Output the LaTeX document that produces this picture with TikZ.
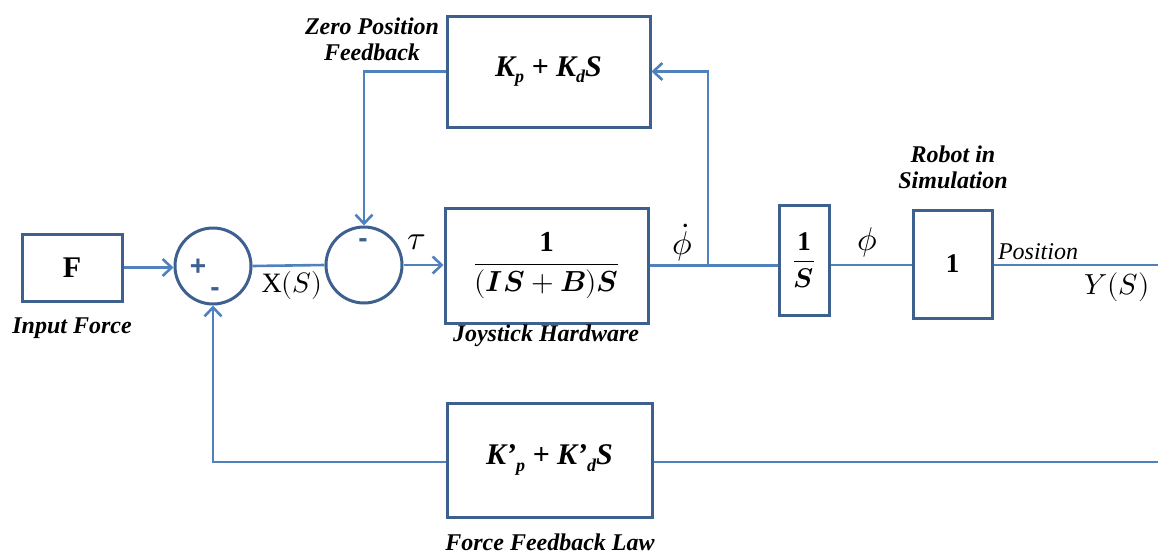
\documentclass[tikz,border=0pt]{standalone}
\usepackage{amsmath}
\usepackage{fontspec}
\usepackage{unicode-math}
\setmainfont{Liberation Serif}
\setmathfont{Latin Modern Math}
\newfontfamily\signfont{Liberation Sans}
\usetikzlibrary{arrows.meta}
\definecolor{boxc}{RGB}{62,96,142}
\definecolor{linec}{RGB}{79,129,189}
\newcommand\fsz[1]{\fontsize{#1}{#1}\selectfont}
\newcommand\lowsub[1]{\raisebox{-0.45ex}{\fsz{18}#1}}
\tikzset{
  blk/.style={draw=boxc, line width=3pt, fill=white, inner sep=0pt},
  sumc/.style={circle, draw=boxc, line width=3pt, fill=white, minimum size=76pt, inner sep=0pt},
  conn/.style={draw=linec, line width=2.6pt},
  arr/.style={conn, -{Straight Barb[length=9pt, width=17pt, line width=2.6pt]}},
  lbl/.style={font=\fsz{24}\bfseries\itshape, align=center, inner sep=0pt},
  sgn/.style={text=boxc, font=\fsz{28}\signfont\bfseries, inner sep=0pt},
  mth/.style={inner sep=0pt},
}
\begin{document}
\begin{tikzpicture}[x=1pt, y=-1pt]
\useasboundingbox (0,0) rectangle (1158,554);
% nodes
\node[blk, minimum width=100pt, minimum height=67pt] (F) at (72,267.5) {\fsz{30}\bfseries F};
\node[sumc] (s1) at (213,266) {};
\node[sumc] (s2) at (364,265) {};
\node[blk, minimum width=203pt, minimum height=115pt] (joy) at (546.5,265.5)
  {\fsz{29}$\displaystyle\frac{\mathbf{1}}{\mathbf{(}\symbfit{IS}\mathbin{\mathbf{+}}\symbfit{B}\mathbf{)}\symbfit{S}}$};
\node[blk, minimum width=203pt, minimum height=111pt] (kp) at (548.5,71.5)
  {\fsz{30}\bfseries\itshape K\lowsub{p} + K\lowsub{d}S};
\node[blk, minimum width=50pt, minimum height=110pt] (inv) at (804,260)
  {\fsz{27}$\displaystyle\frac{\mathbf{1}}{\symbfit{S}}$};
\node[blk, minimum width=79pt, minimum height=108pt] (rob) at (952.5,264)
  {\fsz{27}$\mathbf{1}$};
\node[blk, minimum width=205pt, minimum height=114pt] (ff) at (549.5,460)
  {\fsz{30}\bfseries\itshape K’\lowsub{p} + K’\lowsub{d}S};
\coordinate (tap) at (708,265);
\coordinate (outY) at (1158,265);
\coordinate (outF) at (1158,462);
% connectors
\draw[arr] (F.east) -- (F.east -| s1.west);
\draw[conn] (s1.east) -- (s2.west);
\draw[arr] (s2.east) -- (s2.east -| joy.west);
\draw[conn] (joy.east) -- (joy.east -| inv.west);
\draw[arr] (tap) |- (kp.east);
\draw[arr] (kp.west) -| (s2.north);
\draw[conn] (inv.east |- tap) -- (tap -| rob.west);
\draw[conn] (rob.east |- tap) -- (outY);
\draw[conn] (ff.east |- outF) -- (outF);
\draw[arr] (ff.west |- outF) -| (s1.south);
% signs
\node[sgn] (p1) at (198,267) {+};
\node[sgn] (m1) at (215,292) {-};
\node[sgn] (m2) at (363,243) {-};
% signal labels
\node[mth, font=\fsz{28}] (xs) at (292,285) {X$(S)$};
\node[mth, font=\fsz{34}] (tau) at (417,242) {$\tau$};
\node[mth, font=\fsz{33}] (phid) at (682,243) {$\dot\phi$};
\node[mth, font=\fsz{33}] (phi) at (867,242) {$\phi$};
\node[mth, font=\fsz{24}\itshape] (pos) at (1038,252) {Position};
\node[mth, font=\fsz{29}] (ys) at (1117,287) {$Y(S)$};
% block labels
\node[lbl] (lin) at (72,328) {Input Force};
\node[lbl] (ljoy) at (546,336) {Joystick Hardware};
\node[lbl] (lff) at (550,542) {Force Feedback Law};
\node[lbl] (lzp) at (372,39) {Zero Position\\[2pt]Feedback};
\node[lbl] (lrob) at (953,167) {Robot in\\[2pt]Simulation};
\end{tikzpicture}
\end{document}
